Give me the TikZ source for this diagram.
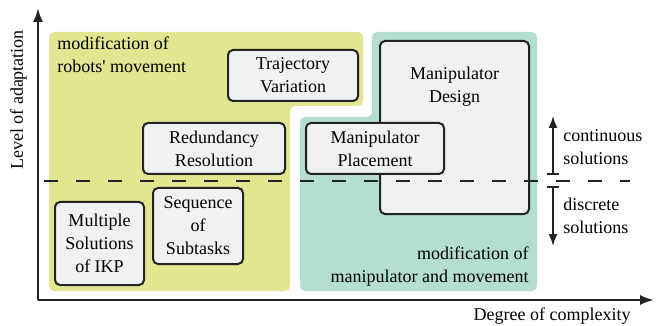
\documentclass[tikz,border=0pt]{standalone}
\usepackage{fontspec}
\setmainfont{Liberation Serif}
\usetikzlibrary{arrows.meta}

\definecolor{robotyellow}{RGB}{226,230,145}
\definecolor{maniteal}{RGB}{180,223,208}
\definecolor{boxgray}{RGB}{240,241,243}
\definecolor{linegray}{RGB}{35,35,35}

\tikzset{
    taskbox/.style={rectangle, draw=linegray, line width=1pt, rounded corners=2.5pt, fill=boxgray, align=center, inner sep=0pt},
    regiontext/.style={align=left, inner sep=0pt},
    axisline/.style={draw=linegray, line width=1.1pt, -{Latex[length=7pt, width=5pt]}},
    sideline/.style={draw=linegray, line width=0.8pt, {Bar[width=6pt]}-{Latex[length=6pt, width=4.5pt]}},
}

\begin{document}
\begin{tikzpicture}[x=0.5pt, y=-0.5pt, font=\fontsize{9}{11.5}\selectfont]
            \useasboundingbox (0,0) rectangle (659,326);

            % Regions
            \fill[robotyellow, rounded corners=2.5pt] (49,32) -- (363,32) -- (363,106) -- (290,106) -- (290,291) -- (49,291) -- cycle;
            \fill[maniteal, rounded corners=2.5pt] (372,32) -- (537,32) -- (537,291) -- (300,291) -- (300,117) -- (372,117) -- cycle;

            % Nodes
            \node[taskbox, minimum width=65pt, minimum height=25.5pt] (traj) at (293,75.5) {Trajectory\\Variation};
            \node[taskbox, minimum width=71pt, minimum height=25.5pt] (redund) at (214,148.5) {Redundancy\\Resolution};
            \node[taskbox, minimum width=74.5pt, minimum height=86.5pt, label={[anchor=north, align=center, yshift=-10pt]north:Manipulator\\Design}] (design) at (454.5,127.5) {};
            \node[taskbox, minimum width=69pt, minimum height=25.5pt] (place) at (375,148.5) {Manipulator\\Placement};
            \node[taskbox, minimum width=44.5pt, minimum height=41.5pt] (ikp) at (99.5,243.5) {Multiple\\Solutions\\of IKP};
            \node[taskbox, minimum width=45pt, minimum height=38pt] (seq) at (198,226) {Sequence\\of\\Subtasks};

            \node[regiontext, anchor=north west] (robotmod) at (57,36) {modification of\\robots\textquotesingle{} movement};
            \node[regiontext, align=right, anchor=south east] (manimod) at (529,287) {modification of\\manipulator and movement};

            % Border between continuous and discrete
            \coordinate (splitleft) at (44,181);
            \coordinate (splitright) at (630,181);
            \draw[linegray, line width=0.8pt, dash pattern=on 7pt off 9pt] (splitleft) -- (splitright);

            % Axes
            \coordinate (origin) at (38,300);
            \coordinate (ytip) at (38,8);
            \coordinate (xtip) at (654,300);
            \draw[axisline] (origin) -- (ytip);
            \draw[axisline] (origin) -- (xtip);
            \node[rotate=90, anchor=south, inner sep=1pt] (ylabel) at (29,100) {Level of adaptation};
            \node[anchor=north east, inner sep=0pt] (xlabel) at (631,307) {Degree of complexity};

            % Continuous / discrete arrows
            \coordinate (upstart) at (553,175);
            \coordinate (upend) at (553,116);
            \coordinate (downstart) at (553,186);
            \coordinate (downend) at (553,246);
            \draw[sideline] (upstart) -- (upend);
            \draw[sideline] (downstart) -- (downend);
            \node[regiontext, anchor=west] (contlabel) at (563,147) {continuous\\solutions};
            \node[regiontext, anchor=west] (disclabel) at (563,216) {discrete\\solutions};
        \end{tikzpicture}
\end{document}
